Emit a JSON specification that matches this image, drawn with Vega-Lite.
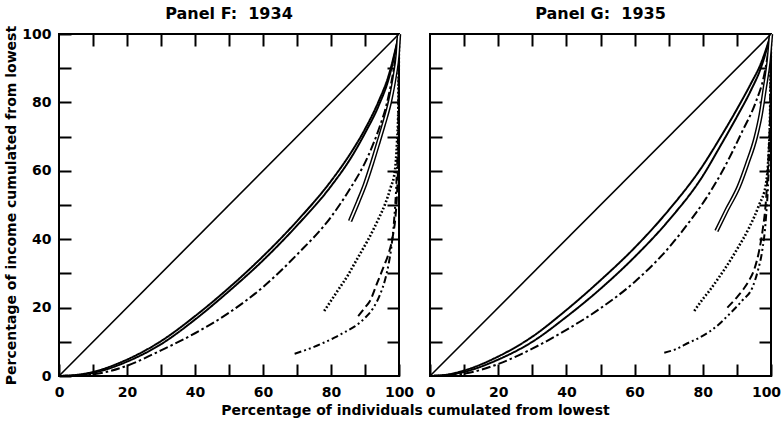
{
  "$schema": "https://vega.github.io/schema/vega-lite/v6.json",
  "padding": {"left": 3, "top": 5, "right": 0, "bottom": 0},
  "background": "white",
  "spacing": 31,
  "bounds": "flush",
  "config": {
    "view": {"stroke": "black", "strokeWidth": 2},
    "font": "DejaVu Sans",
    "axis": {
      "grid": false,
      "domain": false,
      "tickColor": "black",
      "tickWidth": 2,
      "tickSize": -12,
      "labelColor": "black",
      "labelFont": "DejaVu Sans",
      "labelFontSize": 14,
      "labelFontWeight": "bold",
      "labelFlush": false,
      "labelOverlap": false,
      "titleColor": "black",
      "titleFont": "DejaVu Sans",
      "titleFontSize": 14,
      "titleFontWeight": "bold"
    },
    "title": {"font": "DejaVu Sans", "fontSize": 16, "fontWeight": "bold", "color": "black", "offset": 3}
  },
  "datasets": {
    "F": [
      {"series": "equality", "x": 0, "y": 0}, {"series": "equality", "x": 100, "y": 100},
      {"series": "solid_a", "x": 0, "y": 0}, {"series": "solid_a", "x": 5, "y": 0.3}, {"series": "solid_a", "x": 10, "y": 1.2}, {"series": "solid_a", "x": 20, "y": 4.8}, {"series": "solid_a", "x": 30, "y": 10.2}, {"series": "solid_a", "x": 40, "y": 17.5}, {"series": "solid_a", "x": 50, "y": 25.8}, {"series": "solid_a", "x": 60, "y": 35}, {"series": "solid_a", "x": 70, "y": 45.3}, {"series": "solid_a", "x": 80, "y": 57}, {"series": "solid_a", "x": 86, "y": 65.5}, {"series": "solid_a", "x": 90, "y": 72.2}, {"series": "solid_a", "x": 94, "y": 80.3}, {"series": "solid_a", "x": 97, "y": 88}, {"series": "solid_a", "x": 100, "y": 100},
      {"series": "solid_b", "x": 0, "y": 0}, {"series": "solid_b", "x": 5, "y": 0.2}, {"series": "solid_b", "x": 10, "y": 0.9}, {"series": "solid_b", "x": 20, "y": 4.2}, {"series": "solid_b", "x": 30, "y": 9.3}, {"series": "solid_b", "x": 40, "y": 16.5}, {"series": "solid_b", "x": 50, "y": 24.8}, {"series": "solid_b", "x": 60, "y": 33.8}, {"series": "solid_b", "x": 70, "y": 44}, {"series": "solid_b", "x": 80, "y": 55.5}, {"series": "solid_b", "x": 86, "y": 64}, {"series": "solid_b", "x": 90, "y": 71}, {"series": "solid_b", "x": 94, "y": 79}, {"series": "solid_b", "x": 97, "y": 87}, {"series": "solid_b", "x": 100, "y": 100},
      {"series": "dashdot", "x": 0, "y": 0}, {"series": "dashdot", "x": 10, "y": 0.5}, {"series": "dashdot", "x": 20, "y": 3}, {"series": "dashdot", "x": 30, "y": 7.5}, {"series": "dashdot", "x": 40, "y": 12.5}, {"series": "dashdot", "x": 50, "y": 18.5}, {"series": "dashdot", "x": 60, "y": 26}, {"series": "dashdot", "x": 70, "y": 35.5}, {"series": "dashdot", "x": 80, "y": 46.5}, {"series": "dashdot", "x": 85, "y": 53.8}, {"series": "dashdot", "x": 91, "y": 64.5}, {"series": "dashdot", "x": 94, "y": 72}, {"series": "dashdot", "x": 96.5, "y": 80}, {"series": "dashdot", "x": 98.5, "y": 90}, {"series": "dashdot", "x": 100, "y": 100},
      {"series": "hollow", "x": 85.6, "y": 45.3}, {"series": "hollow", "x": 88, "y": 51}, {"series": "hollow", "x": 90, "y": 56}, {"series": "hollow", "x": 92, "y": 62}, {"series": "hollow", "x": 94, "y": 68.5}, {"series": "hollow", "x": 95.5, "y": 73.5}, {"series": "hollow", "x": 97.4, "y": 80.5}, {"series": "hollow", "x": 98.8, "y": 88}, {"series": "hollow", "x": 99.6, "y": 94}, {"series": "hollow", "x": 100, "y": 100},
      {"series": "dotted", "x": 78, "y": 19}, {"series": "dotted", "x": 80, "y": 22}, {"series": "dotted", "x": 82, "y": 25}, {"series": "dotted", "x": 85, "y": 29.5}, {"series": "dotted", "x": 87, "y": 33}, {"series": "dotted", "x": 89, "y": 36.5}, {"series": "dotted", "x": 91, "y": 40}, {"series": "dotted", "x": 94, "y": 46}, {"series": "dotted", "x": 96, "y": 50.5}, {"series": "dotted", "x": 97.5, "y": 55}, {"series": "dotted", "x": 98.8, "y": 60}, {"series": "dotted", "x": 99.4, "y": 68}, {"series": "dotted", "x": 99.8, "y": 78}, {"series": "dotted", "x": 100, "y": 100},
      {"series": "dashed", "x": 88, "y": 17.5}, {"series": "dashed", "x": 90, "y": 20}, {"series": "dashed", "x": 91.5, "y": 22}, {"series": "dashed", "x": 93.5, "y": 27}, {"series": "dashed", "x": 95.5, "y": 32}, {"series": "dashed", "x": 97, "y": 36}, {"series": "dashed", "x": 98.2, "y": 41}, {"series": "dashed", "x": 99, "y": 47}, {"series": "dashed", "x": 99.5, "y": 55}, {"series": "dashed", "x": 99.8, "y": 65}, {"series": "dashed", "x": 100, "y": 100},
      {"series": "dashdotdot", "x": 69.3, "y": 6.5}, {"series": "dashdotdot", "x": 72, "y": 7.4}, {"series": "dashdotdot", "x": 75, "y": 8.5}, {"series": "dashdotdot", "x": 78, "y": 9.8}, {"series": "dashdotdot", "x": 81, "y": 11.2}, {"series": "dashdotdot", "x": 84, "y": 12.8}, {"series": "dashdotdot", "x": 87, "y": 14.5}, {"series": "dashdotdot", "x": 90, "y": 17}, {"series": "dashdotdot", "x": 92.5, "y": 20}, {"series": "dashdotdot", "x": 94.5, "y": 24}, {"series": "dashdotdot", "x": 96, "y": 28.5}, {"series": "dashdotdot", "x": 97, "y": 33}, {"series": "dashdotdot", "x": 97.8, "y": 38}, {"series": "dashdotdot", "x": 98.6, "y": 46}, {"series": "dashdotdot", "x": 99.3, "y": 58}, {"series": "dashdotdot", "x": 99.8, "y": 75}, {"series": "dashdotdot", "x": 100, "y": 100}
    ],
    "G": [
      {"series": "equality", "x": 0, "y": 0}, {"series": "equality", "x": 100, "y": 100},
      {"series": "solid_a", "x": 0, "y": 0}, {"series": "solid_a", "x": 5, "y": 0.4}, {"series": "solid_a", "x": 10, "y": 1.6}, {"series": "solid_a", "x": 20, "y": 5.7}, {"series": "solid_a", "x": 30, "y": 11.5}, {"series": "solid_a", "x": 40, "y": 19.3}, {"series": "solid_a", "x": 50, "y": 28}, {"series": "solid_a", "x": 60, "y": 37.5}, {"series": "solid_a", "x": 70, "y": 48.5}, {"series": "solid_a", "x": 80, "y": 61.5}, {"series": "solid_a", "x": 85, "y": 69.5}, {"series": "solid_a", "x": 90, "y": 78}, {"series": "solid_a", "x": 94, "y": 85.3}, {"series": "solid_a", "x": 97, "y": 91.3}, {"series": "solid_a", "x": 100, "y": 100},
      {"series": "solid_b", "x": 0, "y": 0}, {"series": "solid_b", "x": 5, "y": 0.3}, {"series": "solid_b", "x": 10, "y": 1.2}, {"series": "solid_b", "x": 20, "y": 4.8}, {"series": "solid_b", "x": 30, "y": 10}, {"series": "solid_b", "x": 40, "y": 17.3}, {"series": "solid_b", "x": 50, "y": 25.5}, {"series": "solid_b", "x": 60, "y": 34.8}, {"series": "solid_b", "x": 70, "y": 45.5}, {"series": "solid_b", "x": 80, "y": 58.5}, {"series": "solid_b", "x": 85, "y": 67}, {"series": "solid_b", "x": 90, "y": 75.8}, {"series": "solid_b", "x": 94, "y": 83.3}, {"series": "solid_b", "x": 97, "y": 90}, {"series": "solid_b", "x": 100, "y": 100},
      {"series": "dashdot", "x": 0, "y": 0}, {"series": "dashdot", "x": 10, "y": 0.7}, {"series": "dashdot", "x": 20, "y": 3.5}, {"series": "dashdot", "x": 30, "y": 8}, {"series": "dashdot", "x": 40, "y": 13.5}, {"series": "dashdot", "x": 50, "y": 19.8}, {"series": "dashdot", "x": 60, "y": 27.5}, {"series": "dashdot", "x": 70, "y": 37.5}, {"series": "dashdot", "x": 76, "y": 45}, {"series": "dashdot", "x": 81, "y": 52}, {"series": "dashdot", "x": 85.8, "y": 60}, {"series": "dashdot", "x": 91.6, "y": 71.6}, {"series": "dashdot", "x": 95.5, "y": 80}, {"series": "dashdot", "x": 98, "y": 88}, {"series": "dashdot", "x": 100, "y": 100},
      {"series": "hollow", "x": 84, "y": 42.4}, {"series": "hollow", "x": 87, "y": 48.5}, {"series": "hollow", "x": 90.6, "y": 55.5}, {"series": "hollow", "x": 93, "y": 62}, {"series": "hollow", "x": 95.5, "y": 69.7}, {"series": "hollow", "x": 97, "y": 76.5}, {"series": "hollow", "x": 98.2, "y": 84.3}, {"series": "hollow", "x": 99.3, "y": 92}, {"series": "hollow", "x": 100, "y": 100},
      {"series": "dotted", "x": 77.5, "y": 19}, {"series": "dotted", "x": 80, "y": 22.5}, {"series": "dotted", "x": 82, "y": 25}, {"series": "dotted", "x": 84.5, "y": 28.5}, {"series": "dotted", "x": 86.7, "y": 31.7}, {"series": "dotted", "x": 90, "y": 37}, {"series": "dotted", "x": 93.6, "y": 43.4}, {"series": "dotted", "x": 96.5, "y": 50}, {"series": "dotted", "x": 98.5, "y": 56}, {"series": "dotted", "x": 99.3, "y": 65}, {"series": "dotted", "x": 99.7, "y": 75}, {"series": "dotted", "x": 100, "y": 100},
      {"series": "dashed", "x": 87.2, "y": 20}, {"series": "dashed", "x": 90, "y": 23}, {"series": "dashed", "x": 92, "y": 25.5}, {"series": "dashed", "x": 93.6, "y": 28}, {"series": "dashed", "x": 95.2, "y": 31.5}, {"series": "dashed", "x": 96.5, "y": 36.5}, {"series": "dashed", "x": 97.6, "y": 43}, {"series": "dashed", "x": 98.5, "y": 51}, {"series": "dashed", "x": 99.3, "y": 65}, {"series": "dashed", "x": 99.8, "y": 80}, {"series": "dashed", "x": 100, "y": 100},
      {"series": "dashdotdot", "x": 68.7, "y": 6.8}, {"series": "dashdotdot", "x": 72, "y": 7.8}, {"series": "dashdotdot", "x": 76, "y": 9.8}, {"series": "dashdotdot", "x": 79, "y": 11.2}, {"series": "dashdotdot", "x": 82, "y": 13}, {"series": "dashdotdot", "x": 84, "y": 14.5}, {"series": "dashdotdot", "x": 87.7, "y": 18}, {"series": "dashdotdot", "x": 91.5, "y": 22}, {"series": "dashdotdot", "x": 94.5, "y": 25.8}, {"series": "dashdotdot", "x": 96.2, "y": 31}, {"series": "dashdotdot", "x": 97.4, "y": 36.5}, {"series": "dashdotdot", "x": 98.5, "y": 46}, {"series": "dashdotdot", "x": 99.3, "y": 60}, {"series": "dashdotdot", "x": 99.8, "y": 78}, {"series": "dashdotdot", "x": 100, "y": 100}
    ]
  },
  "hconcat": [
    {
      "title": {"text": "Panel F:\u00a0 1934"},
      "width": 340,
      "height": 342,
      "data": {"name": "F"},
      "resolve": {"axis": {"x": "independent", "y": "independent"}},
      "layer": [
        {
          "transform": [{"filter": "datum.series !== 'equality' && datum.series !== 'hollow' && datum.series !== 'dotted'"}],
          "mark": {"type": "line", "color": "black", "strokeWidth": 2, "strokeCap": "butt", "interpolate": "monotone"},
          "encoding": {
            "x": {"field": "x", "type": "quantitative", "scale": {"domain": [0, 100], "nice": false, "zero": false},
              "axis": {"orient": "bottom", "values": [0, 10, 20, 30, 40, 50, 60, 70, 80, 90, 100], "labelExpr": "datum.value % 20 === 0 ? datum.label : ''", "labelPadding": 21,
                "title": "Percentage of individuals cumulated from lowest", "titleX": 356, "titleY": 27, "titleAnchor": null, "titleAlign": "center", "titleBaseline": "top"}},
            "y": {"field": "y", "type": "quantitative", "scale": {"domain": [0, 100], "nice": false, "zero": false},
              "axis": {"orient": "left", "values": [0, 10, 20, 30, 40, 50, 60, 70, 80, 90, 100], "labelExpr": "datum.value % 20 === 0 ? datum.label : ''", "labelPadding": 20, "labelBaseline": "middle",
                "title": "Percentage of income cumulated from lowest", "titlePadding": 3}},
            "strokeDash": {"field": "series", "type": "nominal", "legend": null,
              "scale": {"domain": ["solid_a", "solid_b", "dashdot", "dashed", "dashdotdot"], "range": [[1, 0], [1, 0], [9, 3, 2.5, 3], [8, 4], [7, 3, 2, 3, 2, 3]]}},
            "detail": {"field": "series"}
          }
        },
        {
          "transform": [{"filter": "datum.series === 'dotted'"}],
          "mark": {"type": "line", "color": "black", "strokeWidth": 2.6, "strokeDash": [1.8, 2], "interpolate": "monotone"},
          "encoding": {"x": {"field": "x", "type": "quantitative", "axis": null}, "y": {"field": "y", "type": "quantitative", "axis": null}}
        },
        {
          "transform": [{"filter": "datum.series === 'hollow'"}],
          "mark": {"type": "line", "color": "black", "strokeWidth": 4.5, "interpolate": "monotone"},
          "encoding": {"x": {"field": "x", "type": "quantitative", "axis": null}, "y": {"field": "y", "type": "quantitative", "axis": null}}
        },
        {
          "transform": [{"filter": "datum.series === 'hollow'"}],
          "mark": {"type": "line", "color": "white", "strokeWidth": 1.6, "interpolate": "monotone"},
          "encoding": {"x": {"field": "x", "type": "quantitative", "axis": null}, "y": {"field": "y", "type": "quantitative", "axis": null}}
        },
        {
          "transform": [{"filter": "datum.series === 'equality'"}],
          "mark": {"type": "line", "color": "black", "strokeWidth": 1.6},
          "encoding": {
            "x": {"field": "x", "type": "quantitative", "axis": {"orient": "top", "values": [10, 20, 30, 40, 50, 60, 70, 80, 90], "labels": false, "title": null}},
            "y": {"field": "y", "type": "quantitative", "axis": {"orient": "right", "values": [10, 20, 30, 40, 50, 60, 70, 80, 90], "labels": false, "title": null}}
          }
        }
      ]
    },
    {
      "title": {"text": "Panel G:\u00a0 1935"},
      "width": 341,
      "height": 342,
      "data": {"name": "G"},
      "resolve": {"axis": {"x": "independent", "y": "independent"}},
      "layer": [
        {
          "transform": [{"filter": "datum.series !== 'equality' && datum.series !== 'hollow' && datum.series !== 'dotted'"}],
          "mark": {"type": "line", "color": "black", "strokeWidth": 2, "strokeCap": "butt", "interpolate": "monotone"},
          "encoding": {
            "x": {"field": "x", "type": "quantitative", "scale": {"domain": [0, 100], "nice": false, "zero": false},
              "axis": {"orient": "bottom", "values": [0, 10, 20, 30, 40, 50, 60, 70, 80, 90, 100], "labelExpr": "datum.value % 20 === 0 ? datum.label : ''", "labelPadding": 21, "title": null,
                "labelOffset": {"condition": {"test": "datum.value === 100", "value": -5}, "value": 0}}},
            "y": {"field": "y", "type": "quantitative", "scale": {"domain": [0, 100], "nice": false, "zero": false},
              "axis": {"orient": "left", "values": [10, 20, 30, 40, 50, 60, 70, 80, 90], "labels": false, "title": null}},
            "strokeDash": {"field": "series", "type": "nominal", "legend": null,
              "scale": {"domain": ["solid_a", "solid_b", "dashdot", "dashed", "dashdotdot"], "range": [[1, 0], [1, 0], [9, 3, 2.5, 3], [8, 4], [7, 3, 2, 3, 2, 3]]}},
            "detail": {"field": "series"}
          }
        },
        {
          "transform": [{"filter": "datum.series === 'dotted'"}],
          "mark": {"type": "line", "color": "black", "strokeWidth": 2.6, "strokeDash": [1.8, 2], "interpolate": "monotone"},
          "encoding": {"x": {"field": "x", "type": "quantitative", "axis": null}, "y": {"field": "y", "type": "quantitative", "axis": null}}
        },
        {
          "transform": [{"filter": "datum.series === 'hollow'"}],
          "mark": {"type": "line", "color": "black", "strokeWidth": 4.5, "interpolate": "monotone"},
          "encoding": {"x": {"field": "x", "type": "quantitative", "axis": null}, "y": {"field": "y", "type": "quantitative", "axis": null}}
        },
        {
          "transform": [{"filter": "datum.series === 'hollow'"}],
          "mark": {"type": "line", "color": "white", "strokeWidth": 1.6, "interpolate": "monotone"},
          "encoding": {"x": {"field": "x", "type": "quantitative", "axis": null}, "y": {"field": "y", "type": "quantitative", "axis": null}}
        },
        {
          "transform": [{"filter": "datum.series === 'equality'"}],
          "mark": {"type": "line", "color": "black", "strokeWidth": 1.6},
          "encoding": {
            "x": {"field": "x", "type": "quantitative", "axis": {"orient": "top", "values": [10, 20, 30, 40, 50, 60, 70, 80, 90], "labels": false, "title": null}},
            "y": {"field": "y", "type": "quantitative", "axis": {"orient": "right", "values": [10, 20, 30, 40, 50, 60, 70, 80, 90], "labels": false, "title": null}}
          }
        }
      ]
    }
  ]
}
